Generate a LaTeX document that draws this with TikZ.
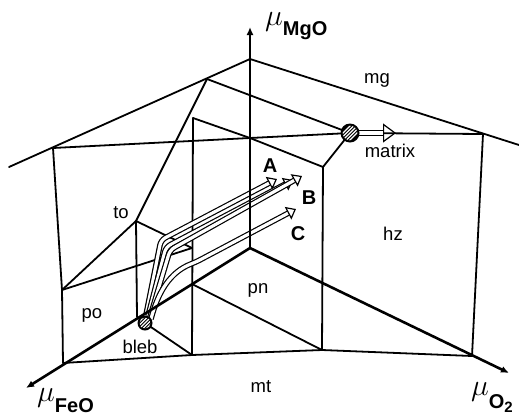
\documentclass[tikz,border=0pt]{standalone}
\usepackage{fontspec}
\usepackage{graphicx}
\setmainfont{Liberation Sans}
\usetikzlibrary{arrows.meta,calc}
\newcommand\HatchDisk[3]{%
  \fill[black] (#1) circle (#2);
  \begin{scope}
    \clip (#1) circle (#3);
    \foreach \d in {-7,-3.5,0,3.5,7} {\draw[white, line width=1.1pt] ($(#1)+(\d-12,12)$) -- ($(#1)+(\d+12,-12)$);}
  \end{scope}}
\newcommand\BigMu{\scalebox{1.45}{$\mu$}}
\begin{document}
\begin{tikzpicture}[x=1pt,y=-1pt,
  bnd/.style={line width=1.8pt, line join=round, line cap=round},
  axis/.style={line width=2.6pt, -{Latex[length=8pt,width=7pt]}},
  hollow/.style={double=white, double distance=3.2pt, line width=1.2pt, rounded corners=5pt,
     -{Triangle[open,length=9pt,width=14pt]}},
  lab/.style={anchor=base, font=\fontsize{18.5}{20}\selectfont, inner sep=0pt},
  big/.style={anchor=base, font=\fontsize{20}{22}\selectfont\bfseries, inner sep=0pt},
  axlab/.style={anchor=base west, inner sep=0pt, font=\fontsize{20}{22}\selectfont},
]
\useasboundingbox (0,0) rectangle (519,418);
% points
\coordinate (O) at (250,248);
\coordinate (Zt) at (250,27);
\coordinate (Xt) at (26,388);
\coordinate (Yt) at (509,373);
\coordinate (P1) at (9,167);
\coordinate (P2) at (250,59);
\coordinate (P3) at (519,145);
\coordinate (Q1) at (53,148);
\coordinate (Q2) at (207,79);
\coordinate (R1) at (193,118);
\coordinate (R2) at (250,138);
\coordinate (M) at (350,133);
\coordinate (S1) at (323,167);
\coordinate (S2) at (483,134);
\coordinate (T) at (136,221);
\coordinate (U) at (62,290);
\coordinate (V) at (192,248);
\coordinate (F1) at (63,363);
\coordinate (G1) at (192,355);
\coordinate (G2) at (322,350);
\coordinate (G3) at (472,356);
\coordinate (H) at (192,284);
\coordinate (Bl) at (145,323);
\coordinate (Bt) at (137,317);
% arrow path points
\coordinate (a0) at (146,315); \coordinate (a1) at (161,240); \coordinate (a2) at (277,179);
\coordinate (b0) at (148,316); \coordinate (b1) at (166,247); \coordinate (b2) at (293,180);
\coordinate (d0) at (150,317); \coordinate (d1) at (170,250); \coordinate (d2) at (302,176);
\coordinate (c0) at (151,319); \coordinate (c1) at (196,262); \coordinate (c2) at (296,209);
\coordinate (m0) at (359,133); \coordinate (m1) at (396,133);
% boundaries
\draw[bnd] (P1) -- (P2) -- (P3);
\draw[bnd] (Q1) -- (R2) -- (M) -- (S2);
\draw[bnd] (Q2) -- (M);
\draw[bnd] (R1) -- (R2) -- (S1) -- (M);
\draw[bnd] (R1) -- (G1);
\draw[bnd] (S1) -- (G2);
\draw[bnd] (S2) -- (G3);
\draw[bnd] (F1) -- (G1) -- (G2) -- (G3);
\draw[bnd] (Q1) -- (U) -- (F1);
\draw[bnd] (Q2) -- (T) -- (U);
\draw[bnd] (T) -- (Bt);
\draw[bnd] (T) -- (V);
\draw[bnd] (U) -- (V);
\draw[bnd] (H) -- (G2);
\draw[bnd] (Bl) -- (G1);
% reaction paths
\draw[hollow] (a0) -- (a1) -- (a2);
\draw[hollow] (b0) -- (b1) -- (b2);
\draw[hollow] (d0) -- (d1) -- (d2);
\draw[hollow] (c0) .. controls (158,292) and (170,272) .. (c1) -- (c2);
\draw[hollow, -{Triangle[open,length=13pt,width=19pt]}] (m0) -- (m1);
% axes
\draw[axis] (O) -- (Zt);
\draw[axis] (O) -- (Xt);
\draw[axis] (O) -- (Yt);
% assemblages
\HatchDisk{M}{9.5}{7.3}
\HatchDisk{Bl}{7.5}{5.6}
% labels
\node[lab] (lmg) at (377,83) {mg};
\node[lab] (lmatrix) at (390,157) {matrix};
\node[lab] (lhz) at (393,240) {hz};
\node[lab] (lpn) at (258,293) {pn};
\node[lab] (lmt) at (261,392) {mt};
\node[lab] (lpo) at (92,318) {po};
\node[lab] (lbleb) at (140,353) {bleb};
\node[lab] (lto) at (121,218) {to};
\node[big] (lA) at (270,172) {A};
\node[big] (lB) at (309,204) {B};
\node[big] (lC) at (298,240) {C};
\node[axlab] (lmgo) at (265,25) {\BigMu\raisebox{-10pt}{\bfseries MgO}};
\node[axlab] (lfeo) at (37,401) {\BigMu\raisebox{-11pt}{\bfseries FeO}};
\node[axlab] (lo2) at (471,395) {\BigMu\raisebox{-13pt}{\bfseries O\raisebox{-4pt}{\fontsize{15}{16}\selectfont 2}}};
\end{tikzpicture}
\end{document}
